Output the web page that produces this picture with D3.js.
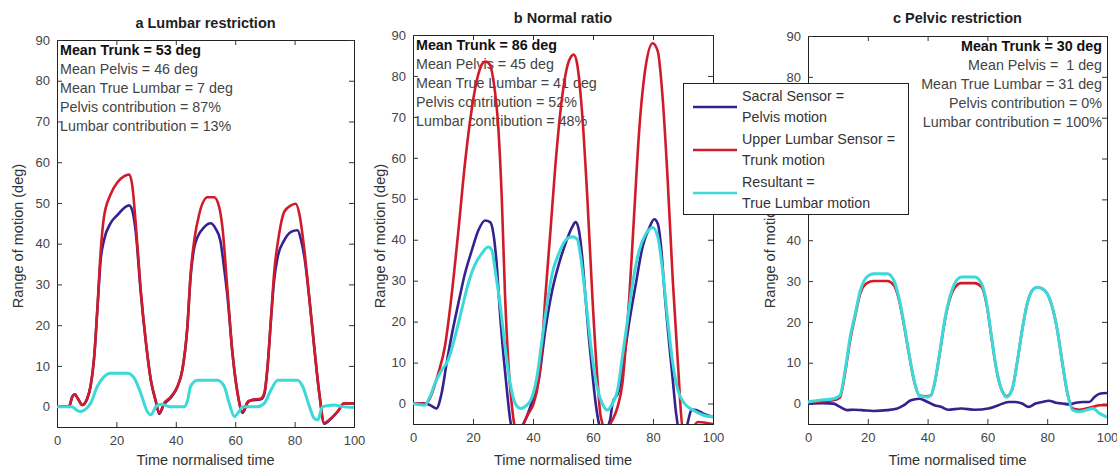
<!DOCTYPE html>
<html lang="en">
<head>
  <meta charset="UTF-8">
  <title>Range of motion</title>
  <style>
    html, body { margin: 0; padding: 0; background: #fff; }
    svg { display: block; font-family: "Liberation Sans", Arial, sans-serif; }
    .tick-label { font-size: 13px; fill: #444; }
    .axis-label { font-size: 14.5px; fill: #333; }
    .title { font-size: 14.5px; font-weight: bold; fill: #222; }
    .note { font-size: 14.3px; fill: #444; }
    .note-bold { font-size: 14.3px; font-weight: bold; fill: #111; }
    .legend-text { font-size: 14.3px; fill: #333; }
  </style>
</head>
<body>
<svg id="chart" width="1117" height="468"></svg>
<script src="https://d3js.org/d3.v7.min.js"></script>
<script>
// ---- data: [time %, degrees] ----
const xTicks = [0, 20, 40, 60, 80, 100];
const yTicks = [0, 10, 20, 30, 40, 50, 60, 70, 80, 90];

const aSacral = [[0,0],[4,0],[5.2,2.5],[6,3],[7,2],[8.5,0.4],[10.2,2],[11.3,5],[12.5,12],[13.6,24],[14.7,36],[15.8,40.8],[18,45],[20.3,47],[23,49],[24.3,49.4],[25.4,48],[26.5,43],[28.2,28],[29.9,16],[31.6,6.5],[33.3,1.2],[34.4,-1.8],[36,0.5],[38.3,2.2],[40.6,5],[42.2,9],[43.9,19.6],[45,32],[46.2,39],[47.3,41.6],[49.5,44],[51.7,45],[53.4,43.7],[55,40.8],[56.1,35],[57.4,27],[59.1,13],[60.8,3.3],[62.5,-1.5],[64.2,1],[65.3,1.5],[68.7,1.8],[69.8,3],[70.9,9.8],[72,21],[73.1,31],[74.3,36.7],[76.5,40.8],[78.8,42.9],[81,43.3],[82.2,40.8],[83.3,36.7],[84.9,27],[86.6,14.7],[88.3,3.3],[90,-4.2],[92.2,-3],[94.5,-1.2],[96.7,0.8],[100,0.8]];
const aUpper = [[0,0],[4,0],[5.2,2.5],[6,3],[7,2],[8.5,0.4],[10.2,2],[11.3,5],[12.5,12],[13.6,24],[14.7,38],[15.8,46.5],[18,52],[20.3,55],[22.5,56.5],[24.3,57],[25.4,54],[26.5,45],[28.2,28.6],[29.9,16],[31.6,6.5],[33.3,1.2],[34.4,-1.6],[36,0.8],[38.3,2.4],[40.6,5],[42.2,9],[43.9,19.6],[45,32.7],[46.2,40.8],[47.9,47.3],[50.7,51.4],[52.9,51.4],[54.6,49],[55.7,44],[57.4,28.6],[59.1,13],[60.8,3.3],[62.5,-1.2],[64.2,1.2],[65.3,1.6],[68.7,2],[69.8,3.3],[70.9,9.8],[72,21],[73.1,32.7],[74.8,42.4],[76.5,47.8],[78.8,49.4],[80.4,49.8],[81.6,47.3],[83.3,38.4],[84.9,27],[86.6,14.7],[88.3,3.3],[90,-4],[92.2,-2.9],[94.5,-1.2],[96.7,0.8],[100,0.8]];
const aResultant = [[0,0],[5,0],[6.5,-0.8],[7.9,-1.2],[10,-0.4],[11.3,0.8],[13.6,5],[15.8,7.3],[18,8.2],[23.7,8.2],[26,7],[28.2,3.3],[30.4,-1.2],[31.6,-2],[33.3,0],[35,0.6],[38,0],[43,0],[44,1.6],[45,5],[47.3,6.5],[54,6.5],[56.3,5],[58,0.8],[59.7,-2.4],[61.3,-1.2],[62.5,0],[67.5,0],[69.8,0.8],[72,4],[74.3,6.5],[81,6.5],[82.7,5],[85,0],[86.6,-2.9],[87.8,-3.3],[89.4,0],[93.4,0.4],[96,0],[100,-0.2]];

const bSacral = [[0,0],[4,0],[6,-0.5],[7.8,-1.2],[9.5,2.4],[11.2,9.8],[12.8,16.3],[15.1,24.4],[17.3,31.7],[19.6,37.4],[21.8,42.3],[24,44.7],[25.7,44.3],[26.8,41.5],[27.9,34],[29,22],[30.2,11.4],[31.3,3.3],[32.4,-4],[33.5,-7],[36,-6],[38,-3],[39.5,0],[41.9,5.7],[44.1,17.9],[46.4,27.6],[48.6,34],[50.8,39],[53,43],[54.2,44.3],[55.3,42.3],[56.4,35.8],[57.5,26],[58.6,16.3],[59.8,7.3],[60.9,0],[62,-4.9],[63.5,-7],[65.7,-4],[66.5,0],[68.7,3.3],[70.4,11.4],[72,19.5],[74.3,29.3],[76.5,38.2],[78.8,43],[80.4,45],[81.6,43.9],[82.7,38.2],[83.8,27.6],[85.5,13.8],[86.6,5.7],[87.7,-2.4],[89,-7],[91,-6],[92.9,-1.5],[94.4,-1.6],[96.6,-2.4],[100,-3.3]];
const bUpper = [[0,0],[4,0],[5,0.5],[8.4,7.3],[10.6,13.8],[12.8,26],[15.1,42],[17.3,58.5],[19.6,72],[21.8,80.5],[24,83.5],[25.1,83.3],[26.8,79],[28.5,66.7],[29.6,50],[30.7,26],[31.8,9.8],[33,-0.8],[34.1,-5.7],[36.3,-5.3],[38.5,-2.4],[40.2,0],[41.9,5.7],[43,13.8],[44.1,26],[45.8,42],[47.5,58.5],[49.7,74.8],[52,83.7],[53.6,85.2],[54.7,83],[56.4,70.7],[58.1,50.4],[59.8,26],[61.5,5.7],[62.6,-3.3],[64.2,-6],[66.5,-4],[68.2,-0.8],[69.8,4.9],[70.9,13.8],[72.1,26],[73.7,46],[75.4,66.7],[77.7,83],[79.9,88],[81.6,86],[83.2,74.8],[84.9,54.5],[86.6,30],[88.3,9.8],[89.9,-6],[92,-7],[95,-4.5],[100,-5]];
const bResultant = [[0,0],[3.9,-0.4],[5.6,1.6],[7.3,4.9],[9.5,8.1],[11.7,10.6],[14,16.3],[16.2,22.8],[18.4,29.3],[20.7,34],[22.9,36.6],[25.1,38.2],[26.3,37.4],[27.4,32.5],[29,24.4],[30.7,13.8],[32.4,4.9],[34.1,0],[35.8,-1.2],[38,-0.4],[39.7,1.6],[41.3,6.5],[43,15.4],[44.7,24.4],[46.4,31.7],[48.6,36.6],[50.8,39.8],[53,40.7],[54.7,40.2],[55.9,35.8],[57.5,26],[59.2,14.6],[60.9,5.7],[63.1,0],[64.8,-1.6],[66.5,0],[68.2,3.3],[69.8,11.4],[71.5,20.3],[73.2,29.3],[75.4,37.4],[77.7,41.5],[79.9,43],[81.6,40.7],[83.2,32.5],[84.9,20.3],[86.6,9.8],[88.3,3.3],[90.5,0],[93.3,-1.6],[96.6,-2.8],[100,-3.3]];

const cSacral = [[0,0],[5,0.1],[8.5,0],[10.7,-0.8],[13,-1.6],[15.2,-1.5],[18,-1.6],[22,-1.8],[26.5,-1.6],[29.9,-1.2],[32.1,-0.4],[34.4,0.8],[37.2,1.2],[40,0.4],[42.3,-0.4],[44.5,-0.8],[46.8,-1.5],[51.3,-1.2],[55.8,-1.5],[60.3,-1.2],[63.7,-0.4],[67.1,0.4],[69.3,0.4],[71.6,0],[73.8,-0.8],[76.1,0],[78.4,0.4],[80.6,0.7],[82.9,0.2],[85.1,0],[87.4,-0.2],[89.6,0.2],[91.9,0.4],[94.1,0.4],[95.8,1.6],[97.5,2.4],[100,2.6]];
const cUpper = [[0,0.3],[3.9,0.5],[8.5,0.8],[10.7,1.5],[12.4,7.5],[14.1,15.5],[15.8,21.5],[17.5,27],[19.7,29.5],[22,30],[26.5,30],[28.7,29],[30.4,25.5],[32.1,19.2],[33.8,12],[35.5,5.5],[37.2,2],[39.5,1.8],[41.1,2],[42.3,4.8],[44,12],[45.7,20],[47.4,25.5],[49,28.3],[51.3,29.5],[55.8,29.5],[58.1,28.5],[59.8,24],[61.4,16],[63.1,8],[64.8,3.3],[66.5,1.8],[68.2,3.3],[69.9,9.8],[71.6,17.9],[73.3,24.4],[75,27.7],[76.7,28.5],[78.4,28.1],[80,26.9],[81.7,23.6],[83.4,17.9],[85.1,9.8],[86.8,2.4],[88.5,-1.2],[90.8,-1.5],[93,-1.2],[95.3,-0.8],[97.5,-0.4],[100,-0.4]];
const cResultant = [[0,0.4],[3.9,0.8],[8.5,1.2],[10.7,2],[12.4,8.1],[14.1,16.3],[15.8,22],[17.5,27.7],[19.7,31],[22,31.8],[26.5,31.8],[28.7,30.2],[30.4,26],[32.1,19.6],[33.8,12.2],[35.5,5.7],[37.2,2],[39.5,1.6],[41.1,2],[42.3,4.9],[44,12.2],[45.7,20.4],[47.4,26],[49,29.3],[51.3,31],[55.8,31],[58.1,29.3],[59.8,24.4],[61.4,16.3],[63.1,8.1],[64.8,3.3],[66.5,1.6],[68.2,3.3],[69.9,9.8],[71.6,17.9],[73.3,24.4],[75,27.7],[76.7,28.5],[78.4,28.1],[80,26.9],[81.7,23.6],[83.4,17.9],[85.1,9.8],[86.8,2.4],[88.5,-1.6],[90.8,-2],[93,-1.6],[95.3,-1.2],[97.5,-2.4],[100,-3.3]];

const titles = ["a Lumbar restriction", "b Normal ratio", "c Pelvic restriction"];
const notesA = ["Mean Trunk = 53 deg", "Mean Pelvis = 46 deg", "Mean True Lumbar = 7 deg", "Pelvis contribution = 87%", "Lumbar contribution = 13%"];
const notesB = ["Mean Trunk = 86 deg", "Mean Pelvis = 45 deg", "Mean True Lumbar = 41 deg", "Pelvis contribution = 52%", "Lumbar contribution = 48%"];
const notesC = ["Mean Trunk = 30 deg", "Mean Pelvis =  1 deg", "Mean True Lumbar = 31 deg", "Pelvis contribution = 0%", "Lumbar contribution = 100%"];
const legendLabels = [["Sacral Sensor =", "Pelvis motion"], ["Upper Lumbar Sensor =", "Trunk motion"], ["Resultant =", "True Lumbar motion"]];

const colors = ["#35218f", "#d01c2a", "#3dd8d8"];

// panel layout (pixels)
const panels = [
  { left: 57, right: 354, top: 40, bottom: 427, ylabX: 18, titleY: 28, title: titles[0], notes: notesA, align: "start", series: [aSacral, aUpper, aResultant] },
  { left: 413, right: 713, top: 35, bottom: 424, ylabX: 380, titleY: 23, title: titles[1], notes: notesB, align: "start", series: [bSacral, bUpper, bResultant] },
  { left: 808, right: 1107, top: 36, bottom: 424, ylabX: 770, titleY: 23, title: titles[2], notes: notesC, align: "end", series: [cSacral, cUpper, cResultant] }
];

const svg = d3.select("#chart");

panels.forEach((p, i) => {
  const x = d3.scaleLinear().domain([0, 100]).range([p.left, p.right]);
  const y = d3.scaleLinear().domain([-5, 90]).range([p.bottom, p.top]);
  const g = svg.append("g");

  // clip so the dips below -5 get cut like in matlab
  g.append("clipPath").attr("id", "clip" + i)
    .append("rect")
    .attr("x", p.left).attr("y", p.top)
    .attr("width", p.right - p.left).attr("height", p.bottom - p.top);

  // axes, with inward ticks on all four sides
  const tickLen = -5;
  g.append("g").attr("transform", `translate(0,${p.bottom})`)
    .call(d3.axisBottom(x).tickValues(xTicks).tickSize(tickLen).tickPadding(9));
  g.append("g").attr("transform", `translate(0,${p.top})`)
    .call(d3.axisTop(x).tickValues(xTicks).tickSize(tickLen).tickFormat(""));
  g.append("g").attr("transform", `translate(${p.left},0)`)
    .call(d3.axisLeft(y).tickValues(yTicks).tickSize(tickLen).tickPadding(7));
  g.append("g").attr("transform", `translate(${p.right},0)`)
    .call(d3.axisRight(y).tickValues(yTicks).tickSize(tickLen).tickFormat(""));
  g.selectAll(".domain").attr("stroke", "#222");
  g.selectAll(".tick line").attr("stroke", "#333");
  g.selectAll(".tick text").attr("class", "tick-label").attr("font-size", null).attr("font-family", null);

  // title
  g.append("text").attr("class", "title")
    .attr("x", (p.left + p.right) / 2).attr("y", p.titleY)
    .attr("text-anchor", "middle").text(p.title);

  // axis labels
  g.append("text").attr("class", "axis-label")
    .attr("x", (p.left + p.right) / 2).attr("y", 465)
    .attr("text-anchor", "middle").text("Time normalised time");
  g.append("text").attr("class", "axis-label")
    .attr("transform", `translate(${p.ylabX + 5},236) rotate(-90)`)
    .attr("text-anchor", "middle").text("Range of motion (deg)");

  // summary text
  const nx = p.align === "start" ? p.left + 3 : p.right - 5;
  g.selectAll("text.note")
    .data(p.notes)
    .enter()
    .append("text")
    .attr("class", (d, k) => k === 0 ? "note-bold" : "note")
    .attr("x", nx)
    .attr("y", (d, k) => p.top + 15 + k * 19)
    .attr("text-anchor", p.align)
    .style("white-space", "pre")
    .text(d => d);

  // curves
  const line = d3.line()
    .x(d => x(d[0]))
    .y(d => y(d[1]))
    .curve(d3.curveMonotoneX);
  g.append("g").attr("clip-path", `url(#clip${i})`)
    .selectAll("path")
    .data(p.series)
    .enter()
    .append("path")
    .attr("d", line)
    .attr("fill", "none")
    .attr("stroke", (d, k) => colors[k])
    .attr("stroke-width", (d, k) => k === 2 ? 3 : 2.6)
    .attr("stroke-linejoin", "round");
});

// legend box sits across panels b and c
const lg = svg.append("g");
lg.append("rect")
  .attr("x", 683.5).attr("y", 83.5).attr("width", 225).attr("height", 131)
  .attr("fill", "#fff").attr("stroke", "#222");
legendLabels.forEach((lab, k) => {
  const top = 101 + k * 43;
  lg.append("line")
    .attr("x1", 693).attr("x2", 737)
    .attr("y1", top + 6).attr("y2", top + 6)
    .attr("stroke", colors[k]).attr("stroke-width", 2.5);
  lg.append("text").attr("class", "legend-text")
    .attr("x", 742).attr("y", top).text(lab[0]);
  lg.append("text").attr("class", "legend-text")
    .attr("x", 742).attr("y", top + 21).text(lab[1]);
});
</script>
</body>
</html>
